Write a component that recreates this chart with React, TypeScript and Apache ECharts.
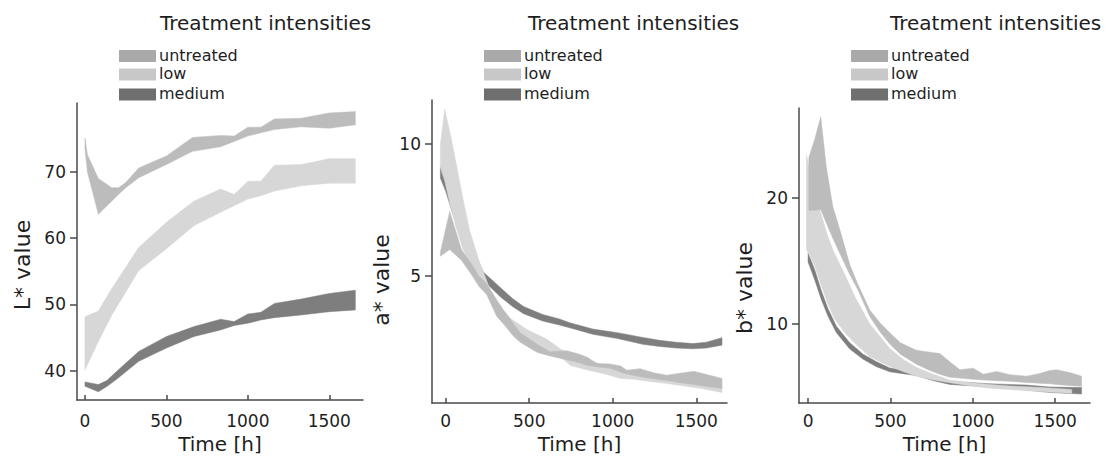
import React, { useEffect, useRef } from "react";
import * as echarts from "echarts";

// ---------- Panel 1: L* value ----------
const p1UntreatedTime = [0, 15, 82, 165, 206, 250, 330, 500, 660, 833, 916, 1000, 1080, 1163, 1327, 1500, 1660];
const p1UntreatedUpper = [75.1, 72.6, 69.0, 67.6, 67.6, 68.4, 70.6, 72.4, 75.2, 75.5, 75.4, 76.75, 76.75, 78.0, 78.1, 78.9, 79.1];
const p1UntreatedLower = [73.5, 70.0, 63.6, 65.6, 66.6, 67.6, 69.1, 71.1, 73.1, 73.8, 74.6, 75.4, 75.9, 76.4, 76.8, 76.6, 77.1];

const p1LowTime = [0, 82, 165, 330, 500, 670, 833, 916, 1000, 1080, 1163, 1327, 1500, 1660];
const p1LowUpper = [48.15, 49.0, 52.4, 58.6, 62.4, 65.6, 67.4, 66.6, 68.6, 68.6, 71.0, 71.1, 72.0, 72.0];
const p1LowLower = [40.1, 44.4, 48.4, 55.1, 58.4, 61.9, 63.9, 64.9, 65.9, 66.4, 67.1, 67.9, 68.3, 68.3];

const p1MediumTime = [0, 82, 134, 200, 330, 500, 670, 833, 916, 1000, 1080, 1163, 1327, 1500, 1660];
const p1MediumUpper = [38.3, 37.9, 38.5, 40.0, 42.9, 45.15, 46.65, 47.75, 47.4, 48.55, 48.8, 50.15, 50.8, 51.65, 52.15];
const p1MediumLower = [37.65, 36.8, 37.6, 38.8, 41.4, 43.4, 45.15, 46.15, 46.8, 47.15, 47.65, 48.0, 48.4, 48.9, 49.15];

// ---------- Panel 2: a* value ----------
const p2UntreatedTime = [-32, 24, 94, 150, 200, 245, 305, 345, 406, 446, 546, 624, 724, 800, 848, 904, 984, 1048, 1084, 1164, 1244, 1324, 1404, 1484, 1544, 1654];
const p2UntreatedUpper = [5.9, 7.44, 6.0, 5.5, 5.0, 4.71, 4.1, 3.73, 3.2, 2.86, 2.43, 2.14, 2.18, 2.05, 1.93, 1.7, 1.68, 1.6, 1.44, 1.5, 1.35, 1.25, 1.33, 1.4, 1.31, 1.13];
const p2UntreatedLower = [5.75, 6.0, 5.6, 5.1, 4.6, 4.3, 3.48, 3.2, 2.73, 2.5, 2.12, 1.98, 1.84, 1.72, 1.62, 1.57, 1.52, 1.37, 1.3, 1.2, 1.12, 1.05, 0.97, 0.9, 0.85, 0.75];

const p2LowTime = [-32, -6, 30, 64, 104, 144, 204, 265, 305, 386, 486, 607, 687, 747, 848, 948, 1048, 1124, 1224, 1324, 1424, 1524, 1654];
const p2LowUpper = [9.95, 11.3, 10.3, 9.2, 7.9, 6.7, 5.5, 4.5, 3.97, 3.41, 2.98, 2.61, 2.24, 2.05, 1.85, 1.62, 1.45, 1.35, 1.25, 1.15, 1.05, 0.95, 0.85];
const p2LowLower = [9.1, 8.6, 7.6, 6.8, 6.0, 5.5, 5.0, 4.1, 3.65, 3.0, 2.58, 2.15, 1.95, 1.62, 1.45, 1.31, 1.13, 1.1, 1.02, 0.94, 0.85, 0.76, 0.6];

const p2MediumTime = [-32, 0, 40, 80, 140, 225, 330, 400, 466, 580, 680, 747, 880, 1028, 1180, 1280, 1380, 1480, 1560, 1654];
const p2MediumUpper = [9.1, 8.95, 8.1, 7.3, 6.3, 5.15, 4.55, 4.15, 3.85, 3.55, 3.38, 3.23, 3.0, 2.86, 2.68, 2.57, 2.5, 2.45, 2.5, 2.67];
const p2MediumLower = [8.7, 8.2, 7.4, 6.7, 5.8, 4.84, 4.2, 3.85, 3.58, 3.3, 3.15, 3.04, 2.8, 2.64, 2.42, 2.34, 2.28, 2.25, 2.28, 2.39];

// ---------- Panel 3: b* value ----------
const p3UntreatedTime = [5, 40, 77, 110, 150, 192, 253, 300, 374, 435, 496, 560, 658, 740, 800, 860, 921, 1002, 1063, 1144, 1224, 1326, 1400, 1467, 1508, 1600, 1660];
const p3UntreatedUpper = [23.2, 24.6, 26.4, 22.5, 19.3, 17.5, 14.7, 13.2, 11.1, 10.1, 9.3, 8.5, 7.9, 7.75, 7.64, 7.0, 6.36, 6.49, 6.0, 6.23, 5.97, 5.85, 6.05, 6.3, 6.36, 6.1, 5.85];
const p3UntreatedLower = [19.0, 19.0, 19.05, 18.0, 16.8, 15.6, 13.9, 12.75, 10.6, 9.4, 8.4, 7.6, 6.8, 6.3, 6.0, 5.77, 5.7, 5.6, 5.55, 5.5, 5.45, 5.35, 5.3, 5.25, 5.2, 5.1, 5.05];

const p3LowTime = [-10, 40, 81, 120, 160, 230, 290, 374, 496, 580, 658, 760, 860, 980, 1103, 1220, 1386, 1508, 1600];
const p3LowUpper = [23.4, 20.5, 18.6, 16.9, 15.6, 13.7, 12.0, 10.0, 8.05, 7.15, 6.55, 6.0, 5.55, 5.35, 5.2, 5.08, 4.98, 4.88, 4.8];
const p3LowLower = [15.9, 14.6, 13.0, 11.6, 10.4, 9.2, 8.4, 7.4, 6.62, 6.2, 5.85, 5.55, 5.33, 5.1, 4.9, 4.8, 4.65, 4.56, 4.5];

const p3MediumTime = [0, 40, 81, 121, 172, 253, 334, 415, 496, 577, 658, 760, 860, 980, 1103, 1220, 1326, 1467, 1560, 1660];
const p3MediumUpper = [15.6, 14.3, 12.6, 11.2, 9.8, 8.5, 7.6, 7.0, 6.5, 6.35, 6.2, 5.8, 5.45, 5.35, 5.25, 5.2, 5.15, 5.0, 4.97, 4.95];
const p3MediumLower = [14.9, 13.5, 11.9, 10.6, 9.3, 8.0, 7.2, 6.6, 6.2, 6.05, 5.9, 5.5, 5.2, 5.1, 5.0, 4.9, 4.75, 4.56, 4.5, 4.44];

// ---------- labels ----------
const timeTicks = [0, 500, 1000, 1500];
const p1Ticks = [40, 50, 60, 70];
const p2Ticks = [5, 10];
const p3Ticks = [10, 20];
const legendNames = ["untreated", "low", "medium"];
const legendTitle = "Treatment intensities";
const yNames = ["L* value", "a* value", "b* value"];
const xName = "Time [h]";

const FONT = "DejaVu Sans";
const swatchColors: Record<string, string> = { untreated: "#a9a9a9", low: "#c8c8c8", medium: "#6f6f6f" };
const bandColors: Record<string, string> = { untreated: "#bcbcbc", low: "#d7d7d7", medium: "#7e7e7e" };
const axisColor = "#4a4a4a";
const textColor = "#1e1e1e";

function band(name: string, idx: number, times: number[], upper: number[], lower: number[]) {
  return {
    type: "custom",
    name,
    xAxisIndex: idx,
    yAxisIndex: idx,
    silent: true,
    clip: true,
    data: times.map((t, i) => [t, upper[i], lower[i]]),
    encode: { x: 0, y: [1, 2] },
    renderItem: (params: any, api: any) => {
      if (params.dataIndex !== 0) return { type: "group", children: [] };
      const pts: number[][] = [];
      for (let i = 0; i < times.length; i++) pts.push(api.coord([times[i], upper[i]]));
      for (let i = times.length - 1; i >= 0; i--) pts.push(api.coord([times[i], lower[i]]));
      return {
        type: "polygon",
        shape: { points: pts },
        style: { fill: bandColors[name], stroke: bandColors[name], lineWidth: 0.5 },
      };
    },
  };
}

const panels = [
  { left: 77, top: 103, right: 363, bottom: 403, xmin: -49, xmax: 1707, ymin: 35.55, ymax: 80.4, yTicks: p1Ticks, xMargin: 12, nameGap: 29, yName: { x: 22, y: 265 }, title: 160, swatch: 119 },
  { left: 432, top: 100, right: 727, bottom: 408, xmin: -82, xmax: 1684, ymin: 0.2, ymax: 11.65, yTicks: p2Ticks, xMargin: 9, nameGap: 26, yName: { x: 381, y: 280 }, title: 528, swatch: 484 },
  { left: 799, top: 108, right: 1090, bottom: 413, xmin: -55, xmax: 1711, ymin: 3.72, ymax: 27.1, yTicks: p3Ticks, xMargin: 9, nameGap: 22, yName: { x: 744, y: 288 }, title: 890, swatch: 851 },
];

function buildOption() {
  const grid = panels.map((p) => ({ left: p.left, top: p.top, width: p.right - p.left, height: p.bottom - p.top, containLabel: false }));
  const lineStyle = { color: axisColor, width: 1.5 };
  const plain = (v: number) => String(v);
  const xAxis = panels.map((p, i) => ({
    type: "value",
    gridIndex: i,
    min: p.xmin,
    max: p.xmax,
    axisLine: { show: true, onZero: false, lineStyle },
    axisTick: { show: true, inside: true, length: 5, customValues: timeTicks, lineStyle },
    axisLabel: { customValues: timeTicks, formatter: plain, fontSize: 17, color: textColor, margin: p.xMargin, fontFamily: FONT },
    splitLine: { show: false },
    name: xName,
    nameLocation: "middle",
    nameGap: p.nameGap,
    nameTextStyle: { fontSize: 20, color: textColor, fontFamily: FONT },
  }));
  const yAxis = panels.map((p, i) => ({
    type: "value",
    gridIndex: i,
    min: p.ymin,
    max: p.ymax,
    axisLine: { show: true, onZero: false, lineStyle },
    axisTick: { show: true, inside: false, length: 7, customValues: p.yTicks, lineStyle },
    axisLabel: { customValues: p.yTicks, formatter: plain, fontSize: 17, color: textColor, margin: 11, fontFamily: FONT },
    splitLine: { show: false },
  }));
  const series = [
    band("medium", 0, p1MediumTime, p1MediumUpper, p1MediumLower),
    band("low", 0, p1LowTime, p1LowUpper, p1LowLower),
    band("untreated", 0, p1UntreatedTime, p1UntreatedUpper, p1UntreatedLower),
    band("medium", 1, p2MediumTime, p2MediumUpper, p2MediumLower),
    band("low", 1, p2LowTime, p2LowUpper, p2LowLower),
    band("untreated", 1, p2UntreatedTime, p2UntreatedUpper, p2UntreatedLower),
    band("medium", 2, p3MediumTime, p3MediumUpper, p3MediumLower),
    band("low", 2, p3LowTime, p3LowUpper, p3LowLower),
    band("untreated", 2, p3UntreatedTime, p3UntreatedUpper, p3UntreatedLower),
  ];
  const graphic: any[] = [];
  const swatchTops = [50, 68.5, 88.5];
  panels.forEach((p, i) => {
    graphic.push({
      type: "text",
      x: p.title,
      y: 23,
      style: { text: legendTitle, font: `20px '${FONT}'`, fill: textColor, textAlign: "left", textVerticalAlign: "middle" },
    });
    legendNames.forEach((n, k) => {
      graphic.push({
        type: "rect",
        shape: { x: p.swatch, y: swatchTops[k], width: 37, height: 12 },
        style: { fill: swatchColors[n] },
      });
      graphic.push({
        type: "text",
        x: p.swatch + 40,
        y: swatchTops[k] + 5,
        style: { text: n, font: `16px '${FONT}'`, fill: textColor, textAlign: "left", textVerticalAlign: "middle" },
      });
    });
    graphic.push({
      type: "text",
      x: p.yName.x,
      y: p.yName.y,
      rotation: Math.PI / 2,
      style: { text: yNames[i], font: `22px '${FONT}'`, fill: textColor, textAlign: "center", textVerticalAlign: "middle" },
    });
  });
  return {
    animation: false,
    backgroundColor: "#ffffff",
    textStyle: { fontFamily: FONT },
    grid,
    xAxis,
    yAxis,
    series,
    graphic: { elements: graphic },
  };
}

export default function App() {
  const ref = useRef<HTMLDivElement>(null);
  useEffect(() => {
    if (!ref.current) return;
    const chart = echarts.init(ref.current, null, { renderer: "svg" });
    chart.setOption(buildOption() as any);
    return () => chart.dispose();
  }, []);
  return <div ref={ref} style={{ position: "absolute", left: 0, top: 0, width: 1116, height: 459 }} />;
}
